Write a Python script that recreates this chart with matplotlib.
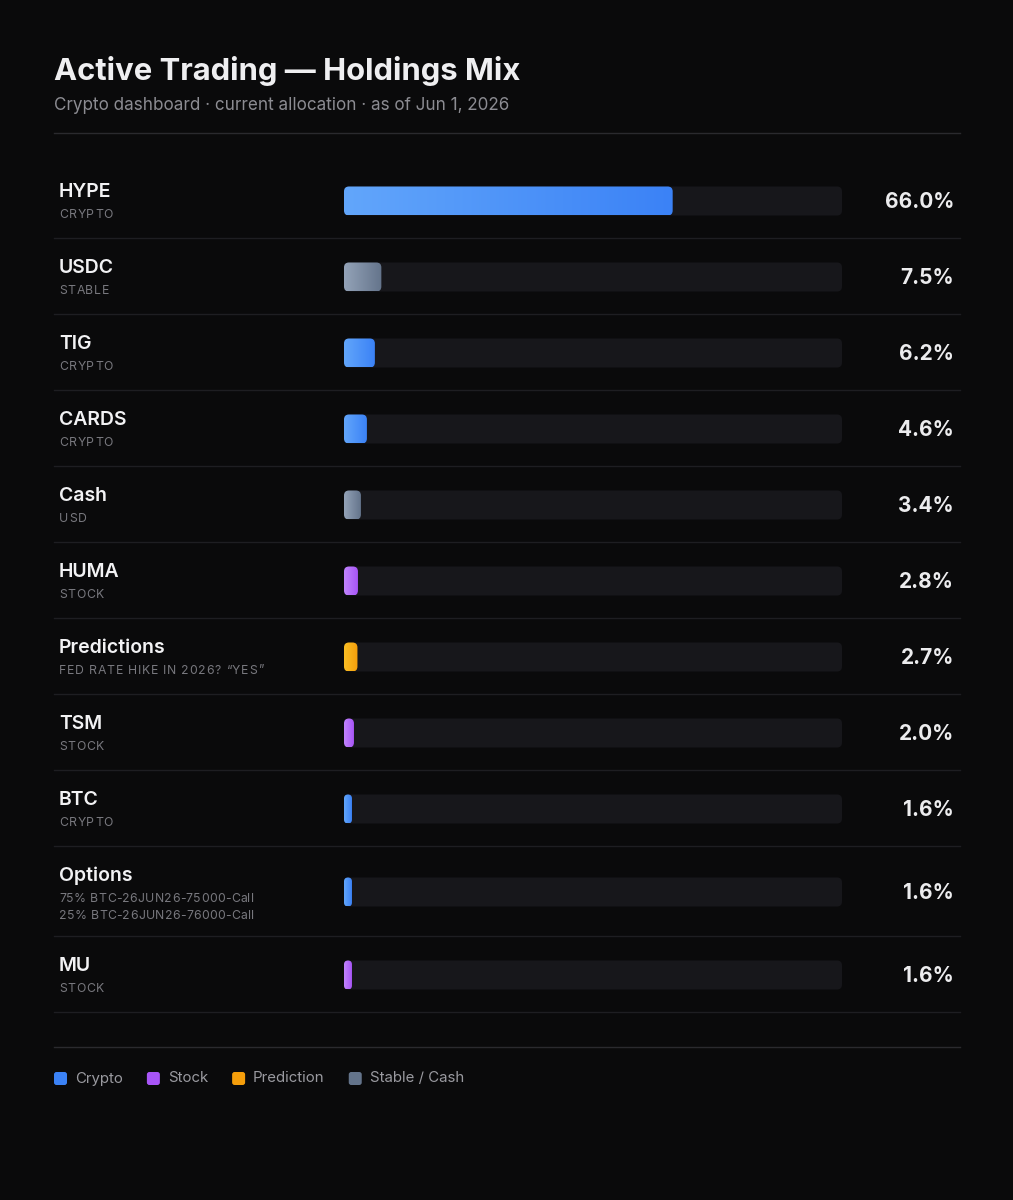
import matplotlib
matplotlib.use("Agg")
import matplotlib.pyplot as plt
import numpy as np
from matplotlib.patches import FancyBboxPatch
from matplotlib.colors import LinearSegmentedColormap

plt.rcParams['font.family'] = ['Inter', 'DejaVu Sans']

# data
names = ['HYPE', 'USDC', 'TIG', 'CARDS', 'Cash', 'HUMA', 'Predictions',
         'TSM', 'BTC', 'Options', 'MU']
subs = ['CRYPTO', 'STABLE', 'CRYPTO', 'CRYPTO', 'USD', 'STOCK',
        'FED RATE HIKE IN 2026? \u201cYES\u201d', 'STOCK', 'CRYPTO',
        '75% BTC-26JUN26-75000-Call\n25% BTC-26JUN26-76000-Call', 'STOCK']
kinds = ['crypto', 'stable', 'crypto', 'crypto', 'stable', 'stock',
         'prediction', 'stock', 'crypto', 'crypto', 'stock']
pcts = [66.0, 7.5, 6.2, 4.6, 3.4, 2.8, 2.7, 2.0, 1.6, 1.6, 1.6]

legend_kinds = ['crypto', 'stock', 'prediction', 'stable']
legend_labels = ['Crypto', 'Stock', 'Prediction', 'Stable / Cash']

# gradient start / end per kind
colors = {
    'crypto': ('#62a6fb', '#3b82f6'),
    'stock': ('#c084fc', '#a855f7'),
    'prediction': ('#fbbf24', '#f59e0b'),
    'stable': ('#94a3b8', '#64748b'),
}

BG = '#0a0a0b'
W, H = 1013, 1200

fig = plt.figure(figsize=(W / 100, H / 100), dpi=100, facecolor=BG)
ax = fig.add_axes([0, 0, 1, 1])
ax.set_xlim(0, W)
ax.set_ylim(H, 0)
ax.axis('off')
ax.set_facecolor(BG)
renderer = fig.canvas.get_renderer()


def spaced(x, y, s, spacing, **kw):
    """draw text char by char with extra letter spacing (pixels)"""
    for ch in s:
        t = ax.text(x, y, ch, **kw)
        x = ax.transData.inverted().transform(
            (t.get_window_extent(renderer).x1, 0))[0] + spacing


# header
ax.text(54, 71, 'Active Trading \u2014 Holdings Mix', fontsize=22.3, fontweight='bold',
        color='#efeff1', va='center', ha='left')
ax.text(54, 105, 'Crypto dashboard \u00b7 current allocation \u00b7 as of Jun 1, 2026',
        fontsize=12.3, color='#8c8c92', va='center', ha='left')
ax.plot([54, 960], [133, 133], color='#2a2a2e', lw=1)

track_x0, track_x1 = 344, 842
track_w = track_x1 - track_x0
bar_h = 29


def rounded(x, y, w, h, r, **kw):
    r = min(r, w / 2, h / 2)
    return FancyBboxPatch((x + r, y + r), w - 2 * r, h - 2 * r,
                          boxstyle='round,pad=%g' % r, **kw)


top = 162
for name, sub, kind, pct in zip(names, subs, kinds, pcts):
    lines = sub.split('\n')
    row_h = 76 + 14 * (len(lines) - 1)
    cy = top + row_h / 2 + 1

    ax.text(59, top + 30, name, fontsize=14, fontweight='semibold', color='#f2f2f4',
            va='center', ha='left')
    for i, line in enumerate(lines):
        sp = 0.75 if line.upper() == line else 0.3
        spaced(59, top + 53 + 17 * i, line, sp, fontsize=8.8, color='#78787e',
               va='center', ha='left')

    # track
    ax.add_patch(rounded(track_x0, cy - bar_h / 2, track_w, bar_h, 5,
                         facecolor='#17171b', edgecolor='none'))
    # value bar with gradient
    bw = pct / 100 * track_w
    clip = rounded(track_x0, cy - bar_h / 2, bw, bar_h, 5,
                   facecolor='none', edgecolor='none')
    ax.add_patch(clip)
    cmap = LinearSegmentedColormap.from_list(kind, colors[kind])
    im = ax.imshow(np.linspace(0, 1, 256).reshape(1, -1), cmap=cmap,
                   extent=(track_x0, track_x0 + bw, cy + bar_h / 2, cy - bar_h / 2),
                   aspect='auto', interpolation='bilinear', zorder=3)
    im.set_clip_path(clip)

    ax.text(954, cy + 1, '%.1f%%' % pct, fontsize=15, fontweight='bold',
            color='#ececee', va='center', ha='right')

    top += row_h
    ax.plot([54, 960], [top, top], color='#1e1e22', lw=1)

ax.set_xlim(0, W)
ax.set_ylim(H, 0)

# legend
ax.plot([54, 960], [1047, 1047], color='#2a2a2e', lw=1)
lx = 54
for kind, lab in zip(legend_kinds, legend_labels):
    ax.add_patch(rounded(lx, 1072, 13, 13, 2.5, facecolor=colors[kind][1],
                         edgecolor='none'))
    t = ax.text(lx + 21, 1078.5, lab, fontsize=10.8, color='#9a9aa0',
                va='center', ha='left')
    bb = t.get_window_extent(renderer)
    lx = ax.transData.inverted().transform((bb.x1, 0))[0] + 24

fig.savefig('out.png', dpi=100, facecolor=BG)
